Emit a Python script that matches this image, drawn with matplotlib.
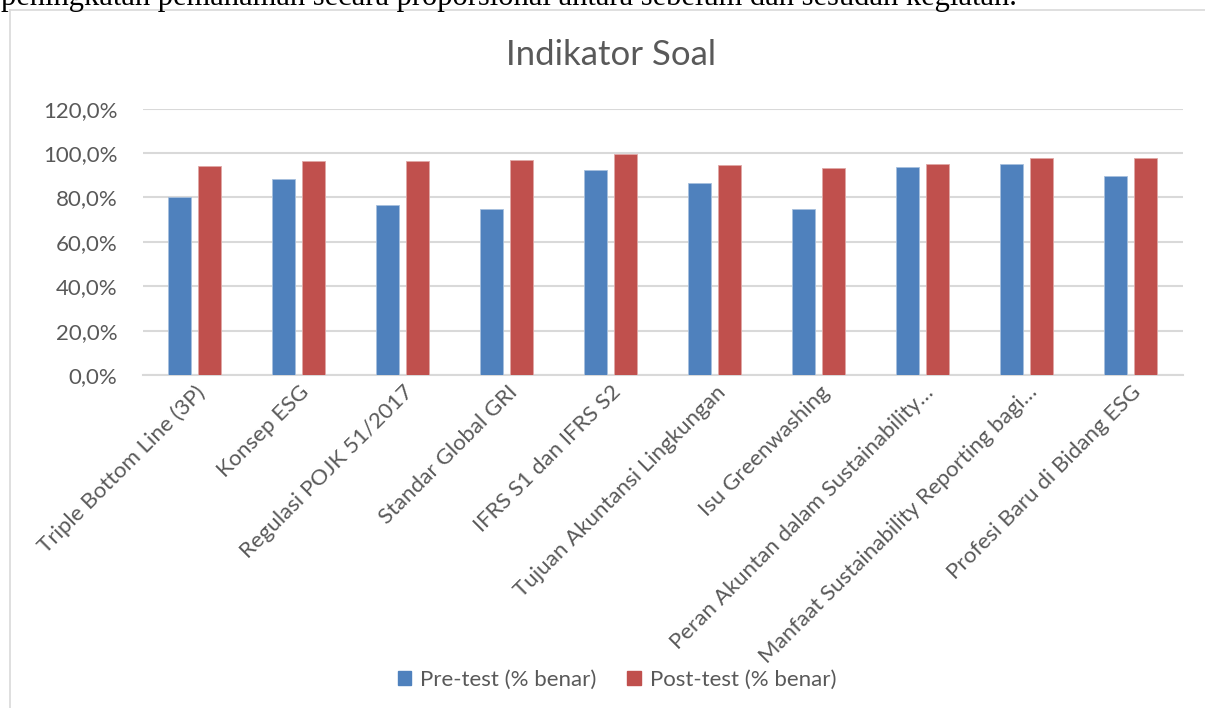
import numpy as np
import matplotlib.pyplot as plt
from matplotlib.patches import Rectangle
from matplotlib.lines import Line2D

categories = [
    "Triple Bottom Line (3P)",
    "Konsep ESG",
    "Regulasi POJK 51/2017",
    "Standar Global GRI",
    "IFRS S1 dan IFRS S2",
    "Tujuan Akuntansi Lingkungan",
    "Isu Greenwashing",
    "Peran Akuntan dalam Sustainability…",
    "Manfaat Sustainability Reporting bagi…",
    "Profesi Baru di Bidang ESG",
]
pre_test = [80.0, 88.3, 76.8, 74.7, 92.4, 86.7, 75.0, 93.6, 94.9, 89.7]
post_test = [94.0, 96.6, 96.6, 97.0, 99.6, 94.5, 93.1, 94.9, 97.9, 97.9]
yticks = [0, 20, 40, 60, 80, 100, 120]

plt.rcParams['font.family'] = ['Lato', 'DejaVu Sans']

fig = plt.figure(figsize=(12.05, 7.08), dpi=100)
ax = fig.add_axes([143 / 1205, 1 - 375 / 708, 1040 / 1205, (375 - 108.6) / 708])

x = np.arange(len(categories))
w = 0.22
ax.bar(x - 0.15, pre_test, w, color='#4F81BD', edgecolor='#A7C0DE', linewidth=0.6,
       label='Pre-test (% benar)', zorder=3)
ax.bar(x + 0.14, post_test, w, color='#C0504D', edgecolor='#E0A7A6', linewidth=0.6,
       label='Post-test (% benar)', zorder=3)

ax.set_xlim(-0.5, len(categories) - 0.5)
ax.set_ylim(0, 120)
ax.set_yticks(yticks)
ax.set_yticklabels([f"{v:.1f}%".replace('.', ',') for v in yticks],
                   fontsize=16, color='#595959')
ax.yaxis.grid(True, color='#D9D9D9', linewidth=1.5, zorder=0)
ax.tick_params(axis='y', length=0, pad=18.5)
ax.tick_params(axis='x', length=0, pad=5)
ax.set_xticks(x)
ax.set_xticklabels(categories, rotation=45, ha='right', rotation_mode='anchor',
                   fontsize=16, color='#595959')
for s in ['top', 'right', 'left']:
    ax.spines[s].set_visible(False)
ax.spines['bottom'].set_color('#D9D9D9')
ax.spines['bottom'].set_linewidth(1.5)

fig.text(611 / 1205, 1 - 55 / 708, 'Indikator Soal', ha='center', va='center',
         fontsize=25, color='#595959')

# chart frame (partially visible)
fig.add_artist(Line2D([10 / 1205, 10 / 1205], [0, 1 - 10 / 708], color='#D9D9D9',
                      linewidth=1.2, transform=fig.transFigure))
fig.add_artist(Line2D([10 / 1205, 1], [1 - 10 / 708, 1 - 10 / 708], color='#D9D9D9',
                      linewidth=1.2, transform=fig.transFigure))

# cut-off document text above the chart
fig.text(1 / 1205, 1 - 5 / 708,
         'peningkatan pemahaman secara proporsional antara sebelum dan sesudah kegiatan.',
         ha='left', va='baseline', fontsize=22, family='Liberation Serif', color='black')

handles = [Rectangle((0, 0), 1, 1, color='#4F81BD'), Rectangle((0, 0), 1, 1, color='#C0504D')]
fig.legend(handles, ['Pre-test (% benar)', 'Post-test (% benar)'], loc='center',
           bbox_to_anchor=(617 / 1205, 1 - 680 / 708), ncol=2, frameon=False,
           fontsize=16, labelcolor='#595959', handlelength=0.6, handleheight=0.6,
           handletextpad=0.4, columnspacing=1.4)

fig.savefig('out.png', dpi=100)
